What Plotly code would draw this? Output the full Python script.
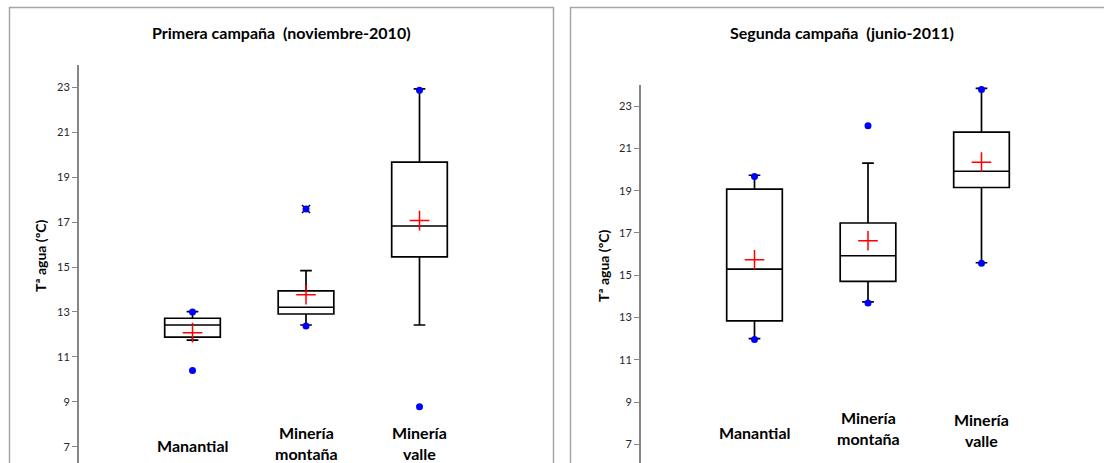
import plotly.graph_objects as go

######### DATA #########
categorias = ['Manantial', 'Minería<br>montaña', 'Minería<br>valle']
titulos = ['Primera campaña  (noviembre-2010)', 'Segunda campaña  (junio-2011)']
y_titulo = 'Tª agua (ºC)'
ticks_y = [7, 9, 11, 13, 15, 17, 19, 21, 23]

# primera campaña (noviembre-2010)
c1_q1 = [11.88, 12.91, 15.45]
c1_mediana = [12.42, 13.21, 16.83]
c1_q3 = [12.72, 13.94, 19.67]
c1_bigote_inf = [11.75, 12.42, 12.42]
c1_bigote_sup = [13.02, 14.84, 22.94]
c1_media = [12.08, 13.77, 17.07]
c1_minimo = [10.39, 12.38, 8.78]
c1_maximo = [13.0, 17.59, 22.87]
c1_atipicos_x = [1]
c1_atipicos_y = [17.59]

# segunda campaña (junio-2011)
c2_q1 = [12.84, 14.71, 19.15]
c2_mediana = [15.29, 15.92, 19.92]
c2_q3 = [19.07, 17.47, 21.77]
c2_bigote_inf = [12.0, 13.74, 15.59]
c2_bigote_sup = [19.73, 20.30, 23.84]
c2_media = [15.73, 16.63, 20.35]
c2_minimo = [11.96, 13.68, 15.56]
c2_maximo = [19.67, 22.07, 23.79]

W, H = 1104, 463
FONT = 'Lato'
pos = [0, 1, 2]

fig = go.Figure()

def ADD_PANEL(fig, n, q1, med, q3, lo, hi, media, mn, mx, atx=None, aty=None):
    xa = 'x' if n == 1 else 'x2'
    ya = 'y' if n == 1 else 'y2'
    fig.add_trace(go.Box(
        x=pos, q1=q1, median=med, q3=q3, lowerfence=lo, upperfence=hi,
        xaxis=xa, yaxis=ya, width=0.49, whiskerwidth=0.21,
        line=dict(color='black', width=1.7), fillcolor='rgba(0,0,0,0)',
        boxpoints=False, showlegend=False, hoverinfo='skip'
    ))
    if atx:
        fig.add_trace(go.Scatter(
            x=atx, y=aty, mode='markers', xaxis=xa, yaxis=ya, showlegend=False,
            marker=dict(symbol='x-thin', size=8, line=dict(color='black', width=1.5))
        ))
    fig.add_trace(go.Scatter(
        x=pos + pos, y=mn + mx, mode='markers', xaxis=xa, yaxis=ya, showlegend=False,
        marker=dict(symbol='circle', size=7, color='#0000ff')
    ))
    fig.add_trace(go.Scatter(
        x=pos, y=media, mode='markers', xaxis=xa, yaxis=ya, showlegend=False,
        marker=dict(symbol='cross-thin', size=14, line=dict(color='#ff0000', width=1.5))
    ))

ADD_PANEL(fig, 1, c1_q1, c1_mediana, c1_q3, c1_bigote_inf, c1_bigote_sup,
          c1_media, c1_minimo, c1_maximo, c1_atipicos_x, c1_atipicos_y)
ADD_PANEL(fig, 2, c2_q1, c2_mediana, c2_q3, c2_bigote_inf, c2_bigote_sup,
          c2_media, c2_minimo, c2_maximo)

yax = dict(
    tickvals=ticks_y, showgrid=False, zeroline=False,
    showline=True, linecolor='#868686', linewidth=2,
    ticks='outside', ticklen=5, tickcolor='#868686', tickwidth=1,
    tickfont=dict(family=FONT, size=11, color='#262626'),
)
xax = dict(range=[-1, 3], visible=False, showgrid=False, zeroline=False)

fig.update_layout(
    width=W, height=H,
    margin=dict(t=0, l=0, r=0, b=0),
    paper_bgcolor='white', plot_bgcolor='white',
    font=dict(family=FONT, color='black'),
    xaxis=dict(xax, domain=[79 / W, 533 / W]),
    xaxis2=dict(xax, domain=[641 / W, 1095 / W]),
    yaxis=dict(yax, domain=[0, 1 - 65 / H], range=[6.274, 24], anchor='x'),
    yaxis2=dict(yax, domain=[0, 1 - 85 / H], range=[6.114, 24], anchor='x2'),
)

# marcos de cada gráfico
fig.add_shape(type='rect', xref='paper', yref='paper',
              x0=9.5 / W, x1=553.5 / W, y0=-0.05, y1=1 - 7.5 / H,
              line=dict(color='#a6a6a6', width=1.5))
fig.add_shape(type='rect', xref='paper', yref='paper',
              x0=570.5 / W, x1=1.05, y0=-0.05, y1=1 - 7.5 / H,
              line=dict(color='#a6a6a6', width=1.5))

# titulos
for t, cx in zip(titulos, [281, 842]):
    fig.add_annotation(text='<b>' + t + '</b>', xref='paper', yref='paper',
                       x=cx / W, y=1 - 33 / H, showarrow=False,
                       xanchor='center', yanchor='middle',
                       font=dict(family=FONT, size=16, color='black'))

# titulo eje y
for cx, cy in [(40, 256), (603, 266)]:
    fig.add_annotation(text='<b>' + y_titulo + '</b>', xref='paper', yref='paper',
                       x=cx / W, y=1 - cy / H, textangle=-90, showarrow=False,
                       xanchor='center', yanchor='middle',
                       font=dict(family=FONT, size=14, color='black'))

# etiquetas de categoria
ys1 = [445, 442.5, 442.5]
ys2 = [432, 428, 430]
for xa, ys in [('x', ys1), ('x2', ys2)]:
    for i, c in enumerate(categorias):
        fig.add_annotation(text='<b>' + c + '</b>', xref=xa, yref='paper',
                           x=i, y=1 - ys[i] / H, showarrow=False,
                           xanchor='center', yanchor='middle',
                           font=dict(family=FONT, size=16, color='black'))

fig.write_html("out.html", config={'displayModeBar': False},
               post_script="document.body.style.margin='0';")
